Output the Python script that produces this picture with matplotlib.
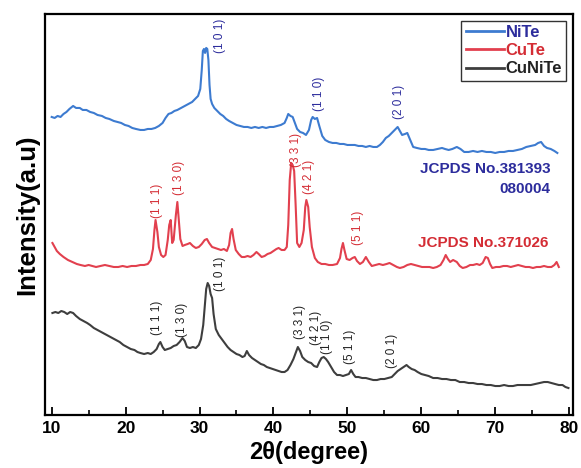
import matplotlib
matplotlib.use("Agg")
import matplotlib.pyplot as plt
from matplotlib.ticker import MultipleLocator

plt.rcParams['font.family'] = ['Liberation Sans', 'DejaVu Sans']

# ---------------- data ----------------
series_names = ['NiTe', 'CuTe', 'CuNiTe']

# (2theta, intensity a.u.) pairs
nite_pts = [
    (10.0, 298), (10.4, 297), (10.8, 299), (11.2, 298), (11.6, 301), (12.0, 303), (12.4, 306),
    (12.9, 309), (13.3, 307), (13.8, 307), (14.2, 305), (14.7, 305), (15.2, 303), (15.7, 302),
    (16.2, 300), (16.8, 299), (17.3, 297), (17.8, 296), (18.4, 294), (18.9, 293), (19.4, 292),
    (19.9, 290), (20.4, 289), (20.9, 287), (21.4, 286), (22.0, 285), (22.5, 285), (23.0, 286),
    (23.5, 286), (24.0, 287), (24.5, 289), (25.0, 292), (25.4, 297), (25.8, 301), (26.2, 302),
    (26.6, 304), (27.0, 305), (27.5, 307), (28.0, 309), (28.5, 311), (29.0, 313), (29.4, 316),
    (29.8, 319), (30.1, 326), (30.3, 345), (30.45, 364), (30.6, 366), (30.75, 362), (30.9, 367),
    (31.05, 366), (31.2, 355), (31.35, 330), (31.5, 316), (31.7, 311), (32.0, 307), (32.4, 304),
    (32.8, 301), (33.2, 299), (33.6, 296), (34.0, 294), (34.5, 292), (35.0, 290), (35.5, 289),
    (36.0, 288), (36.5, 288), (37.0, 287), (37.5, 288), (38.0, 287), (38.5, 288), (39.0, 287),
    (39.5, 288), (40.0, 288), (40.5, 289), (41.0, 290), (41.5, 292), (41.8, 297), (42.0, 301),
    (42.3, 299), (42.6, 298), (42.9, 292), (43.2, 286), (43.6, 283), (44.0, 282), (44.4, 280),
    (44.8, 285), (45.1, 295), (45.3, 298), (45.6, 296), (45.9, 297), (46.2, 289), (46.6, 279),
    (47.0, 275), (47.5, 273), (48.0, 272), (48.5, 272), (49.0, 271), (49.5, 271), (50.0, 270),
    (50.5, 270), (51.0, 270), (51.5, 269), (52.0, 269), (52.5, 268), (53.0, 269), (53.5, 268),
    (54.0, 268), (54.4, 270), (54.8, 273), (55.2, 277), (55.6, 279), (56.0, 282), (56.4, 285),
    (56.8, 288), (57.1, 284), (57.4, 280), (57.8, 281), (58.1, 282), (58.5, 275), (58.9, 268),
    (59.4, 267), (60.0, 266), (60.5, 266), (61.0, 265), (61.6, 265), (62.2, 266), (62.8, 267),
    (63.2, 266), (63.7, 265), (64.2, 266), (64.8, 268), (65.3, 266), (65.8, 263), (66.4, 263),
    (67.0, 264), (67.6, 263), (68.2, 264), (68.8, 263), (69.4, 263), (70.0, 262), (70.6, 263),
    (71.2, 263), (71.8, 264), (72.4, 264), (73.0, 265), (73.6, 266), (74.2, 268), (74.8, 269),
    (75.4, 270), (75.8, 272), (76.2, 273), (76.6, 269), (77.0, 267), (77.5, 266), (78.0, 264),
    (78.4, 262)]

cute_pts = [
    (10.1, 172), (10.4, 168), (10.7, 164), (11.1, 161), (11.6, 158), (12.2, 155), (12.8, 153),
    (13.4, 151), (13.9, 150), (14.5, 149), (15.0, 150), (15.5, 149), (16.0, 148), (16.6, 149),
    (17.2, 150), (17.8, 149), (18.4, 148), (19.0, 148), (19.6, 149), (20.2, 148), (20.8, 149),
    (21.4, 149), (22.0, 150), (22.5, 150), (23.0, 151), (23.4, 155), (23.7, 166), (23.9, 185),
    (24.05, 195), (24.3, 183), (24.5, 168), (24.8, 160), (25.1, 158), (25.4, 160), (25.7, 175),
    (25.9, 190), (26.1, 195), (26.3, 172), (26.5, 175), (26.8, 200), (27.0, 213), (27.2, 195),
    (27.4, 176), (27.7, 169), (28.0, 170), (28.4, 171), (28.7, 172), (29.1, 169), (29.5, 167),
    (29.9, 168), (30.3, 171), (30.7, 175), (31.0, 176), (31.3, 172), (31.7, 168), (32.1, 167),
    (32.5, 166), (32.9, 165), (33.3, 166), (33.7, 164), (34.0, 170), (34.2, 182), (34.4, 186),
    (34.6, 176), (34.9, 165), (35.3, 161), (35.7, 158), (36.1, 158), (36.5, 159), (36.9, 158),
    (37.3, 160), (37.7, 163), (38.0, 161), (38.4, 158), (38.8, 159), (39.2, 161), (39.6, 162),
    (40.0, 164), (40.4, 166), (40.7, 167), (41.1, 165), (41.5, 165), (41.8, 168), (42.0, 190),
    (42.2, 235), (42.4, 252), (42.6, 250), (42.8, 244), (43.0, 210), (43.2, 172), (43.5, 168),
    (43.8, 172), (44.1, 185), (44.3, 208), (44.45, 215), (44.7, 208), (44.9, 188), (45.2, 168),
    (45.6, 157), (46.0, 153), (46.5, 151), (47.0, 151), (47.5, 150), (48.0, 150), (48.6, 151),
    (49.0, 157), (49.2, 166), (49.4, 172), (49.6, 165), (49.9, 156), (50.3, 155), (50.7, 157),
    (51.0, 158), (51.3, 154), (51.7, 151), (52.1, 153), (52.5, 158), (52.9, 153), (53.3, 149),
    (53.8, 150), (54.3, 151), (54.8, 150), (55.3, 151), (55.7, 152), (56.2, 150), (56.7, 148),
    (57.1, 147), (57.6, 148), (58.1, 150), (58.6, 151), (59.1, 150), (59.6, 149), (60.1, 148),
    (60.6, 148), (61.1, 148), (61.6, 147), (62.1, 148), (62.6, 150), (63.0, 155), (63.3, 160),
    (63.6, 156), (63.9, 153), (64.3, 155), (64.8, 153), (65.2, 149), (65.6, 147), (66.1, 148),
    (66.6, 150), (67.0, 150), (67.5, 151), (67.9, 150), (68.3, 152), (68.7, 158), (69.0, 157),
    (69.3, 151), (69.6, 147), (70.1, 148), (70.6, 148), (71.1, 149), (71.6, 149), (72.1, 148),
    (72.6, 149), (73.1, 150), (73.6, 149), (74.1, 148), (74.6, 148), (75.1, 147), (75.6, 148),
    (76.1, 148), (76.6, 149), (77.1, 148), (77.6, 148), (78.0, 150), (78.3, 153), (78.6, 148)]

cunite_pts = [
    (10.1, 102), (10.5, 103), (10.9, 102), (11.3, 104), (11.7, 103), (12.1, 101), (12.5, 103),
    (12.9, 102), (13.3, 99), (13.8, 96), (14.3, 94), (14.8, 92), (15.2, 90), (15.7, 87),
    (16.2, 85), (16.7, 83), (17.2, 81), (17.7, 79), (18.2, 77), (18.7, 75), (19.2, 73),
    (19.7, 70), (20.2, 68), (20.7, 66), (21.2, 65), (21.6, 63), (22.0, 62), (22.5, 61),
    (23.0, 62), (23.4, 61), (23.8, 63), (24.2, 66), (24.5, 71), (24.7, 73), (25.0, 68),
    (25.3, 65), (25.7, 66), (26.1, 67), (26.5, 69), (26.9, 70), (27.3, 73), (27.7, 77),
    (28.0, 74), (28.3, 68), (28.7, 67), (29.1, 68), (29.5, 67), (29.9, 70), (30.2, 76),
    (30.5, 90), (30.7, 108), (30.9, 126), (31.1, 132), (31.3, 129), (31.5, 121), (31.7, 117),
    (31.9, 101), (32.2, 86), (32.6, 80), (33.0, 76), (33.4, 72), (33.8, 68), (34.2, 65),
    (34.6, 63), (35.0, 61), (35.4, 60), (35.8, 58), (36.1, 59), (36.4, 64), (36.7, 60),
    (37.1, 57), (37.5, 55), (37.9, 53), (38.3, 51), (38.7, 50), (39.1, 48), (39.5, 47),
    (39.9, 46), (40.3, 45), (40.7, 44), (41.1, 43), (41.5, 43), (41.9, 45), (42.3, 50),
    (42.7, 56), (43.0, 62), (43.3, 68), (43.6, 64), (43.9, 58), (44.3, 55), (44.7, 53),
    (45.1, 52), (45.5, 49), (45.9, 48), (46.2, 53), (46.5, 57), (46.8, 58), (47.1, 56),
    (47.4, 53), (47.8, 48), (48.2, 43), (48.6, 40), (49.0, 40), (49.4, 39), (49.8, 40),
    (50.2, 41), (50.5, 45), (50.8, 41), (51.1, 38), (51.5, 38), (52.0, 37), (52.5, 37),
    (53.0, 36), (53.5, 35), (54.0, 35), (54.5, 36), (55.0, 36), (55.5, 37), (56.0, 38),
    (56.4, 41), (56.8, 44), (57.2, 46), (57.6, 48), (58.0, 50), (58.3, 48), (58.7, 46),
    (59.1, 45), (59.5, 43), (60.0, 41), (60.5, 40), (61.0, 39), (61.6, 37), (62.2, 37),
    (62.8, 36), (63.4, 36), (64.0, 35), (64.6, 35), (65.2, 33), (65.8, 33), (66.4, 32),
    (67.0, 32), (67.6, 31), (68.2, 31), (68.8, 30), (69.4, 30), (70.0, 29), (70.6, 29),
    (71.2, 30), (71.8, 29), (72.4, 29), (73.0, 30), (73.6, 30), (74.2, 30), (74.8, 30),
    (75.4, 31), (76.0, 32), (76.6, 33), (77.1, 33), (77.6, 32), (78.1, 31), (78.6, 30),
    (79.1, 30), (79.5, 28), (79.9, 27)]

# (label, 2theta, y-centre)
nite_hkl = [('(1 0 1)', 32.8, 379), ('(1 1 0)', 46.1, 321), ('(2 0 1)', 57.0, 313)]
cute_hkl = [('(1 1 1)', 24.3, 214), ('(1 3 0)', 27.2, 237), ('(3 3 1)', 43.1, 265),
            ('(4 2 1)', 44.8, 238), ('(5 1 1)', 51.4, 187)]
cunite_hkl = [('(1 1 1)', 24.3, 97), ('(1 3 0)', 27.6, 95), ('(1 0 1)', 32.8, 141),
              ('(3 3 1)', 43.6, 93), ('(4 2 1)', 45.8, 87), ('(1 1 0)', 47.2, 78),
              ('(5 1 1)', 50.3, 68), ('(2 0 1)', 56.1, 64)]

jcpds_texts = ['JCPDS No.381393', '080004', 'JCPDS No.371026']
x_ticks = [10, 20, 30, 40, 50, 60, 70, 80]

# ---------------- styling ----------------
c_blue, c_red, c_black = '#3d7bd0', '#e2404e', '#3e3e3e'
t_blue, t_red, t_black = '#2c2c9c', '#d42c34', '#222222'

fig = plt.figure(figsize=(5.81, 4.68), dpi=100)
ax = fig.add_axes([0.0775, 0.1132, 0.9085, 0.857])

for pts, col, name in ((nite_pts, c_blue, series_names[0]),
                       (cute_pts, c_red, series_names[1]),
                       (cunite_pts, c_black, series_names[2])):
    xs = [p[0] for p in pts]
    ys = [p[1] for p in pts]
    ax.plot(xs, ys, color=col, lw=1.5, label=name, solid_joinstyle='round')

for hkl, col in ((nite_hkl, t_blue), (cute_hkl, t_red), (cunite_hkl, t_black)):
    for lab, xx, yy in hkl:
        ax.text(xx, yy, lab, rotation=90, ha='center', va='center',
                fontsize=8.5, color=col)

ax.text(77.5, 246, jcpds_texts[0], color=t_blue, fontsize=11, fontweight='bold',
        ha='right', va='center')
ax.text(77.5, 226, jcpds_texts[1], color=t_blue, fontsize=11, fontweight='bold',
        ha='right', va='center')
ax.text(77.2, 172, jcpds_texts[2], color=t_red, fontsize=11, fontweight='bold',
        ha='right', va='center')

ax.set_xlim(9.1, 80.5)
ax.set_ylim(0, 401)
ax.set_xticks(x_ticks)
ax.xaxis.set_minor_locator(MultipleLocator(5))
ax.set_yticks([])
ax.tick_params(axis='x', which='major', direction='in', length=6, width=1.3,
               labelsize=12.5, pad=4)
ax.tick_params(axis='x', which='minor', direction='in', length=3.5, width=1.2)
for lab in ax.get_xticklabels():
    lab.set_fontweight('bold')
for sp in ax.spines.values():
    sp.set_linewidth(1.6)

ax.set_xlabel('2θ(degree)', fontsize=17, fontweight='bold', labelpad=4)
ax.set_ylabel('Intensity(a.u)', fontsize=18.5, fontweight='bold', labelpad=4)

leg = ax.legend(loc='upper right', frameon=True, fancybox=False,
                edgecolor='black', handlelength=2.3, handletextpad=0.1,
                labelspacing=0.2, borderpad=0.25, borderaxespad=0.4,
                prop={'weight': 'bold', 'size': 12})
leg.get_frame().set_linewidth(1.0)
for txt, col in zip(leg.get_texts(), (t_blue, t_red, t_black)):
    txt.set_color(col)
for h in leg.get_lines():
    h.set_linewidth(2.0)

fig.savefig('out.png', dpi=100)
